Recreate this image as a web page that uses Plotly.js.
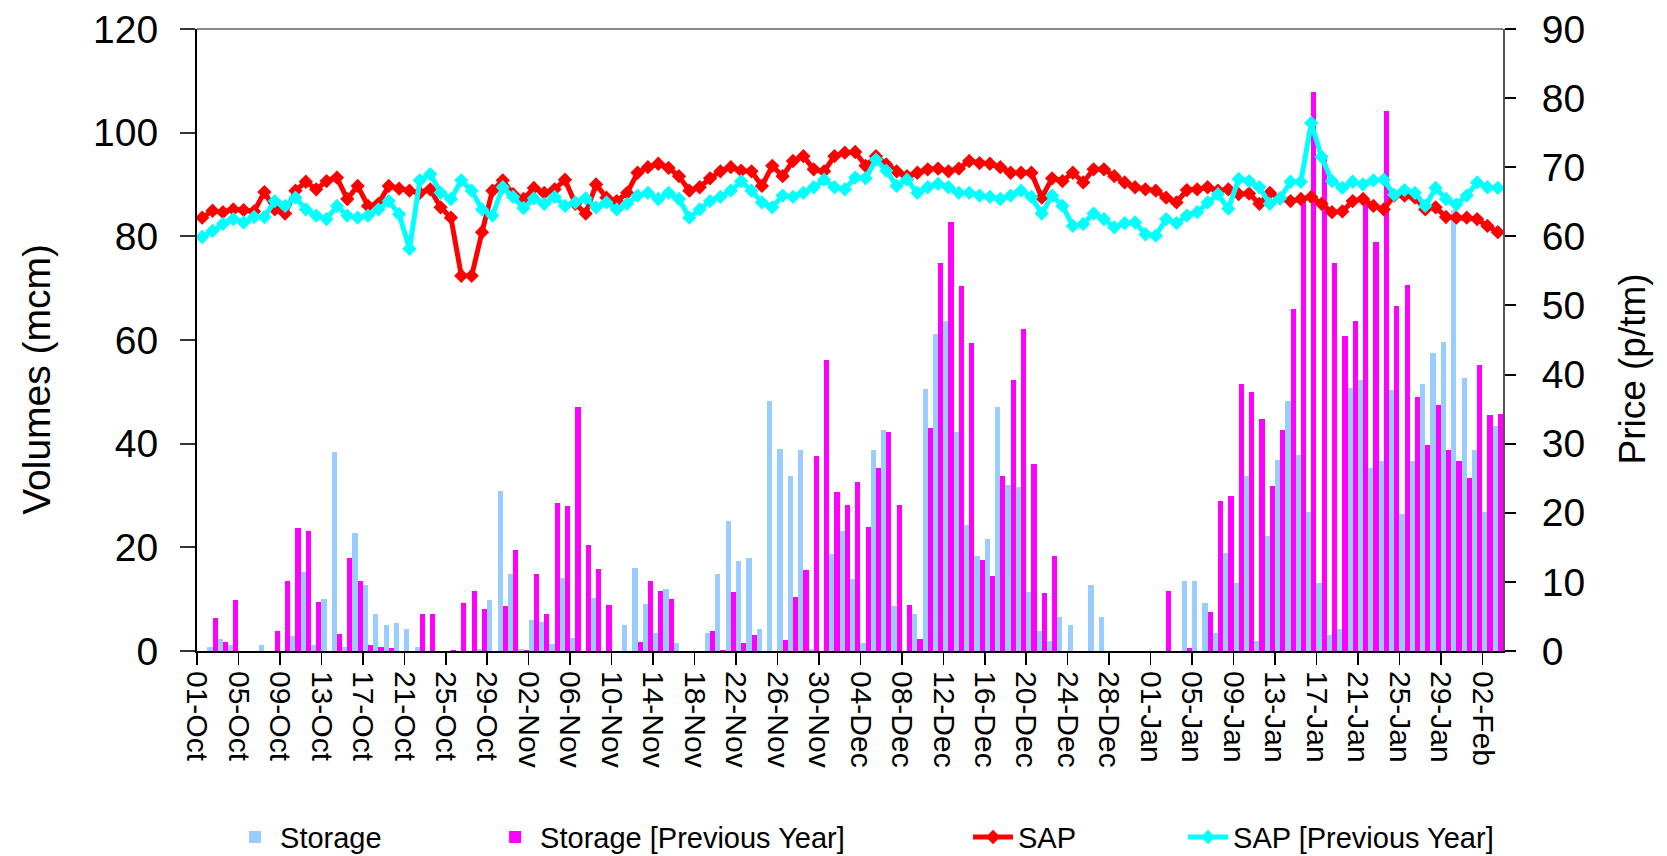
<!DOCTYPE html>
<html>
<head>
<meta charset="utf-8">
<script src="https://cdn.plot.ly/plotly-3.0.1.min.js"></script>
<style>html,body{margin:0;padding:0;background:#fff;}#chart{width:1667px;height:856px;}</style>
</head>
<body>
<div id="chart"></div>
<script>
// Daily categories: 01-Oct .. 03-Feb
const startDate = '2008-10-01';
const dayCount = 126;

// Storage (mcm), left axis
const storage = [
 0, 0.8, 2.4, 1.2, 0, 0, 1.2, 0, 0, 2.9,
 15.3, 1.2, 10.1, 38.3, 0.7, 22.7, 12.8, 7.2, 5.0, 5.4,
 4.3, 0.8, 0, 0, 0, 0, 0, 0.3, 9.9, 30.8,
 14.8, 0.3, 5.9, 5.5, 1.3, 14.0, 2.6, 0, 10.3, 0,
 0, 5.1, 16.1, 9.0, 3.4, 12.0, 1.5, 0, 0, 3.4,
 14.8, 25.0, 17.3, 17.9, 4.2, 48.2, 38.9, 33.8, 38.7, 0.3,
 0, 18.8, 23.1, 13.8, 1.5, 38.7, 42.7, 8.6, 0, 7.2,
 50.6, 61.1, 63.6, 42.2, 24.4, 18.4, 21.7, 47.0, 32.1, 31.7,
 11.3, 3.8, 1.9, 6.5, 5.0, 0, 12.8, 6.5, 0, 0,
 0, 0, 0, 0, 0, 13.6, 13.5, 9.2, 3.4, 19.0,
 13.2, 33.8, 1.9, 22.1, 36.9, 48.2, 37.9, 26.8, 13.2, 3.0,
 4.2, 50.8, 52.3, 35.4, 36.6, 50.3, 26.5, 36.7, 51.6, 57.4,
 59.7, 85.0, 52.7, 38.7, 26.8, 43.4
];

// Storage [Previous Year] (mcm), left axis
const storagePrev = [
 0, 6.3, 1.8, 9.8, 0, 0, 0, 3.8, 13.5, 23.8,
 23.1, 9.4, 0, 3.3, 17.9, 13.6, 1.2, 0.7, 0.5, 0,
 0, 7.1, 7.1, 0, 0.15, 9.2, 11.5, 8.2, 0, 8.6,
 19.4, 0.15, 14.8, 7.1, 28.5, 27.9, 47.1, 20.5, 15.9, 8.8,
 0, 0, 1.7, 13.6, 11.5, 10.1, 0, 0, 0, 3.8,
 0.2, 11.3, 1.5, 3.0, 0, 0, 2.2, 10.5, 15.7, 37.7,
 56.2, 30.6, 28.1, 32.7, 24.0, 35.4, 42.3, 28.1, 8.8, 2.4,
 43.1, 74.9, 82.8, 70.5, 59.5, 17.6, 14.4, 33.7, 52.3, 62.2,
 36.0, 11.1, 18.3, 0, 0, 0, 0, 0, 0, 0,
 0, 0, 0, 11.5, 0, 0.5, 0, 7.5, 29.0, 30.0,
 51.6, 50.0, 44.8, 31.9, 42.6, 66.0, 87.0, 107.8, 95.0, 74.9,
 60.7, 63.7, 87.5, 79.0, 104.2, 66.6, 70.7, 49.1, 39.8, 47.4,
 38.7, 36.6, 33.4, 55.2, 45.6, 45.8
];

// SAP (p/tm), right axis
const sap = [
 62.7, 63.7, 63.5, 63.9, 63.8, 63.6, 66.4, 63.9, 63.3, 66.6,
 67.9, 66.8, 68.0, 68.5, 65.4, 67.3, 64.4, 64.7, 67.3, 66.9,
 66.6, 66.3, 66.8, 64.2, 62.7, 54.3, 54.3, 60.6, 66.6, 68.1,
 66.1, 65.4, 67.0, 66.3, 66.8, 68.2, 64.7, 63.3, 67.5, 65.6,
 65.1, 66.3, 69.2, 70.0, 70.5, 69.9, 68.7, 66.6, 67.1, 68.4,
 69.4, 70.0, 69.5, 69.4, 67.3, 70.2, 68.7, 70.9, 71.6, 69.7,
 69.4, 71.6, 72.1, 72.2, 70.2, 71.6, 70.4, 69.4, 68.7, 69.2,
 69.7, 69.8, 69.4, 69.8, 70.9, 70.6, 70.5, 70.0, 69.2, 69.2,
 69.2, 65.6, 68.4, 68.0, 69.2, 67.8, 69.7, 69.7, 68.7, 67.8,
 67.1, 66.8, 66.6, 65.6, 64.9, 66.7, 66.8, 67.1, 66.6, 66.8,
 66.1, 66.2, 64.7, 66.3, 65.5, 65.1, 65.4, 65.7, 64.7, 63.5,
 63.6, 65.1, 65.4, 64.4, 63.9, 65.9, 65.9, 65.6, 63.9, 64.2,
 62.8, 62.7, 62.7, 62.5, 61.5, 60.6
];

// SAP [Previous Year] (p/tm), right axis
const sapPrev = [
 59.9, 60.8, 61.8, 62.5, 62.0, 62.8, 62.8, 65.1, 64.4, 65.6,
 63.9, 63.0, 62.5, 64.4, 63.0, 62.7, 63.0, 63.9, 65.1, 63.2,
 58.2, 68.1, 69.0, 66.3, 65.4, 68.1, 66.6, 63.9, 63.0, 67.1,
 65.7, 64.1, 65.5, 64.7, 65.7, 64.4, 64.9, 65.5, 64.2, 64.9,
 63.9, 64.7, 65.9, 66.3, 65.4, 66.3, 65.4, 62.7, 63.9, 65.1,
 65.7, 66.6, 68.0, 66.6, 64.9, 64.2, 65.9, 65.7, 66.3, 67.1,
 68.2, 67.1, 66.8, 68.5, 68.4, 71.1, 69.5, 67.3, 68.2, 66.3,
 67.1, 67.6, 67.1, 66.3, 66.3, 65.9, 65.7, 65.4, 65.9, 66.6,
 65.7, 63.3, 65.9, 64.4, 61.5, 61.8, 63.3, 62.5, 61.3, 61.9,
 62.0, 60.3, 60.1, 62.5, 61.9, 63.0, 63.5, 64.9, 66.1, 64.0,
 68.3, 68.0, 67.1, 64.7, 65.5, 67.9, 67.9, 76.4, 71.5, 68.0,
 67.0, 67.9, 67.5, 68.1, 68.2, 66.0, 66.7, 66.3, 64.4, 67.0,
 65.4, 64.6, 65.9, 67.8, 67.1, 67.0
];

// build the daily date categories
const dates = [];
{
  const d0 = new Date(startDate + 'T00:00:00Z');
  for (let i = 0; i < dayCount; i++) {
    const d = new Date(d0.getTime() + i * 86400000);
    dates.push(d.toISOString().slice(0, 10));
  }
}

const FONT = 'Liberation Sans, Arial, Helvetica, sans-serif';
const DAY = 86400000;

const common = {xperiod: DAY, xperiodalignment: 'middle'};

const traces = [
  Object.assign({type: 'bar', name: 'Storage', x: dates, y: storage, yaxis: 'y',
    marker: {color: '#99CCFF', line: {width: 0}}, legend: 'legend'}, common),
  Object.assign({type: 'bar', name: 'Storage [Previous Year]', x: dates, y: storagePrev, yaxis: 'y',
    marker: {color: '#FF00FF', line: {width: 0}}, legend: 'legend2'}, common),
  Object.assign({type: 'scatter', mode: 'lines+markers', name: 'SAP', x: dates, y: sap, yaxis: 'y2',
    line: {color: '#FF0000', width: 5}, marker: {symbol: 'diamond', size: 11, color: '#FF0000'}, legend: 'legend3'}, common),
  Object.assign({type: 'scatter', mode: 'lines+markers', name: 'SAP [Previous Year]', x: dates, y: sapPrev, yaxis: 'y2',
    line: {color: '#00FFFF', width: 5}, marker: {symbol: 'diamond', size: 11, color: '#00FFFF'}, legend: 'legend4'}, common)
];

const legendBase = {orientation: 'h', xref: 'container', yref: 'container', y: 0.022, yanchor: 'middle', xanchor: 'left',
  font: {family: FONT, size: 29, color: '#000'}, bgcolor: 'rgba(0,0,0,0)', borderwidth: 0, itemwidth: 40};

const layout = {
  width: 1667, height: 856,
  margin: {l: 197, r: 164, t: 29, b: 205, pad: 0, autoexpand: false},
  paper_bgcolor: '#fff', plot_bgcolor: '#fff',
  font: {family: FONT, color: '#000'},
  barmode: 'group', bargap: 0, bargroupgap: 0,
  showlegend: true,
  xaxis: {
    type: 'date', range: ['2008-10-01', '2009-02-04'],
    tick0: '2008-10-01', dtick: 4 * DAY, tickformat: '%d-%b',
    tickangle: 90, ticks: 'outside', ticklen: 12, tickwidth: 1.5, tickcolor: '#000',
    tickfont: {family: FONT, size: 30, color: '#000'},
    showline: true, linecolor: '#000', linewidth: 2,
    showgrid: false, zeroline: false, fixedrange: true, automargin: false
  },
  yaxis: {
    range: [0, 120], dtick: 20, tick0: 0,
    ticks: 'outside', ticklen: 15, tickwidth: 2, tickcolor: '#333',
    ticklabelstandoff: 14,
    tickfont: {family: FONT, size: 39, color: '#000'},
    showline: true, linecolor: '#000', linewidth: 2,
    showgrid: false, zeroline: false, automargin: false
  },
  yaxis2: {
    overlaying: 'y', side: 'right', anchor: 'x',
    range: [0, 90], dtick: 10, tick0: 0,
    ticks: 'outside', ticklen: 11, tickwidth: 2, tickcolor: '#000',
    ticklabelstandoff: 18,
    tickfont: {family: FONT, size: 39, color: '#000'},
    showline: true, linecolor: '#555', linewidth: 2,
    showgrid: false, zeroline: false, automargin: false
  },
  yaxis3: {
    overlaying: 'y', side: 'right', anchor: 'x',
    range: [0, 90], dtick: 10, tick0: 0,
    ticks: 'inside', ticklen: 14, tickwidth: 2, tickcolor: '#000',
    showticklabels: false, showline: false, showgrid: false, zeroline: false
  },
  annotations: [
    {text: 'Volumes (mcm)', xref: 'paper', yref: 'paper', x: -0.1225, y: 0.436,
     xanchor: 'center', yanchor: 'middle', textangle: -90, showarrow: false,
     font: {family: FONT, size: 39, color: '#000'}},
    {text: 'Price (p/tm)', xref: 'paper', yref: 'paper', x: 1.099, y: 0.453,
     xanchor: 'center', yanchor: 'middle', textangle: -90, showarrow: false,
     font: {family: FONT, size: 37, color: '#000'}}
  ],
  shapes: [
    {type: 'line', xref: 'paper', yref: 'paper', x0: 0, x1: 1, y0: 1, y1: 1,
     line: {color: '#888', width: 2}}
  ],
  legend: Object.assign({x: 0.138}, legendBase),
  legend2: Object.assign({x: 0.294}, legendBase),
  legend3: Object.assign({x: 0.5807}, legendBase),
  legend4: Object.assign({x: 0.7097}, legendBase)
};

Plotly.newPlot('chart', traces, layout, {displayModeBar: false, staticPlot: true});
</script>
</body>
</html>
